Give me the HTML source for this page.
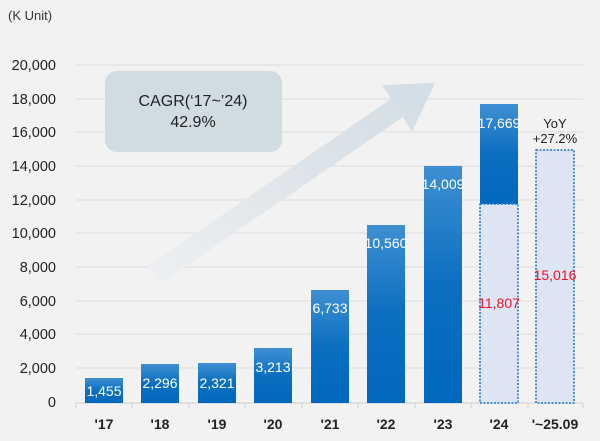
<!DOCTYPE html>
<html><head><style>
body{margin:0;background:#f2f2f2;}
svg{display:block;font-family:"Liberation Sans",sans-serif;}
</style></head><body>
<svg width="600" height="441" viewBox="0 0 600 441">
<defs>
<linearGradient id="b" x1="0" y1="0" x2="0" y2="1"><stop offset="0" stop-color="#3f8fd2"/><stop offset="0.5" stop-color="#0b6fc1"/><stop offset="1" stop-color="#0068bd"/></linearGradient>
<linearGradient id="a" x1="0" y1="1" x2="1" y2="0"><stop offset="0" stop-color="#eef0f2"/><stop offset="0.5" stop-color="#dfe5ea"/><stop offset="1" stop-color="#d2dde5"/></linearGradient>
</defs>
<rect width="600" height="441" fill="#f2f2f2"/>
<g stroke="#dcdcdc" stroke-width="1">
<line x1="76" x2="583" y1="65" y2="65"/><line x1="76" x2="583" y1="99" y2="99"/><line x1="76" x2="583" y1="132" y2="132"/><line x1="76" x2="583" y1="166" y2="166"/><line x1="76" x2="583" y1="200" y2="200"/><line x1="76" x2="583" y1="233" y2="233"/><line x1="76" x2="583" y1="267" y2="267"/><line x1="76" x2="583" y1="301" y2="301"/><line x1="76" x2="583" y1="334" y2="334"/><line x1="76" x2="583" y1="368" y2="368"/>
</g>
<line x1="76" x2="583" y1="403" y2="403" stroke="#cfcfcf"/>
<g stroke="#cfcfcf"><line x1="76" x2="76" y1="403" y2="408"/><line x1="132" x2="132" y1="403" y2="408"/><line x1="189" x2="189" y1="403" y2="408"/><line x1="245" x2="245" y1="403" y2="408"/><line x1="302" x2="302" y1="403" y2="408"/><line x1="358" x2="358" y1="403" y2="408"/><line x1="415" x2="415" y1="403" y2="408"/><line x1="471" x2="471" y1="403" y2="408"/><line x1="528" x2="528" y1="403" y2="408"/><line x1="583" x2="583" y1="403" y2="408"/></g>
<text x="8" y="20" font-size="13" fill="#333">(K Unit)</text>
<g font-size="14.5" fill="#222" text-anchor="end">
<text x="56" y="70">20,000</text><text x="56" y="104">18,000</text><text x="56" y="137">16,000</text><text x="56" y="171">14,000</text><text x="56" y="205">12,000</text><text x="56" y="238">10,000</text><text x="56" y="272">8,000</text><text x="56" y="306">6,000</text><text x="56" y="339">4,000</text><text x="56" y="373">2,000</text><text x="56" y="407">0</text>
</g>
<polygon points="148,266 391,99 382,85 435,83 412,132 403,117 160,284" fill="url(#a)"/>
<rect x="105" y="71" width="177" height="81" rx="12" fill="#d0dbe2"/>
<text x="193" y="106" font-size="16" fill="#222" text-anchor="middle">CAGR(‘17~’24)</text>
<text x="193" y="127" font-size="16" fill="#222" text-anchor="middle">42.9%</text>
<g fill="url(#b)">
<rect x="85" y="378" width="38" height="25"/>
<rect x="141" y="364" width="38" height="39"/>
<rect x="198" y="363" width="38" height="40"/>
<rect x="254" y="348" width="38" height="55"/>
<rect x="311" y="290" width="38" height="113"/>
<rect x="367" y="225" width="38" height="178"/>
<rect x="424" y="166" width="38" height="237"/>
<rect x="480" y="104" width="38" height="100"/>
</g>
<rect x="480" y="204" width="38" height="199" fill="#dde5f2" stroke="#1a75c8" stroke-width="1.5" stroke-dasharray="2,1.5"/>
<rect x="536" y="150" width="38" height="253" fill="#dde5f2" stroke="#1a75c8" stroke-width="1.5" stroke-dasharray="2,1.5"/>
<g font-size="14" fill="#fff" text-anchor="middle">
<text x="104" y="396">1,455</text><text x="160" y="388">2,296</text><text x="217" y="388">2,321</text><text x="273" y="372">3,213</text><text x="330" y="313">6,733</text><text x="386" y="248">10,560</text><text x="443" y="189">14,009</text><text x="499" y="128">17,669</text>
</g>
<g font-size="14" fill="#f0102a" text-anchor="middle"><text x="499" y="308">11,807</text><text x="555" y="280">15,016</text></g>
<text x="555" y="128" font-size="13" fill="#222" text-anchor="middle">YoY</text>
<text x="555" y="143" font-size="13" fill="#222" text-anchor="middle">+27.2%</text>
<g font-size="14" font-weight="bold" fill="#222" text-anchor="middle">
<text x="104" y="429">'17</text><text x="160" y="429">'18</text><text x="217" y="429">'19</text><text x="273" y="429">'20</text><text x="330" y="429">'21</text><text x="386" y="429">'22</text><text x="443" y="429">'23</text><text x="499" y="429">'24</text><text x="555" y="429">'~25.09</text>
</g>
</svg>
</body></html>
